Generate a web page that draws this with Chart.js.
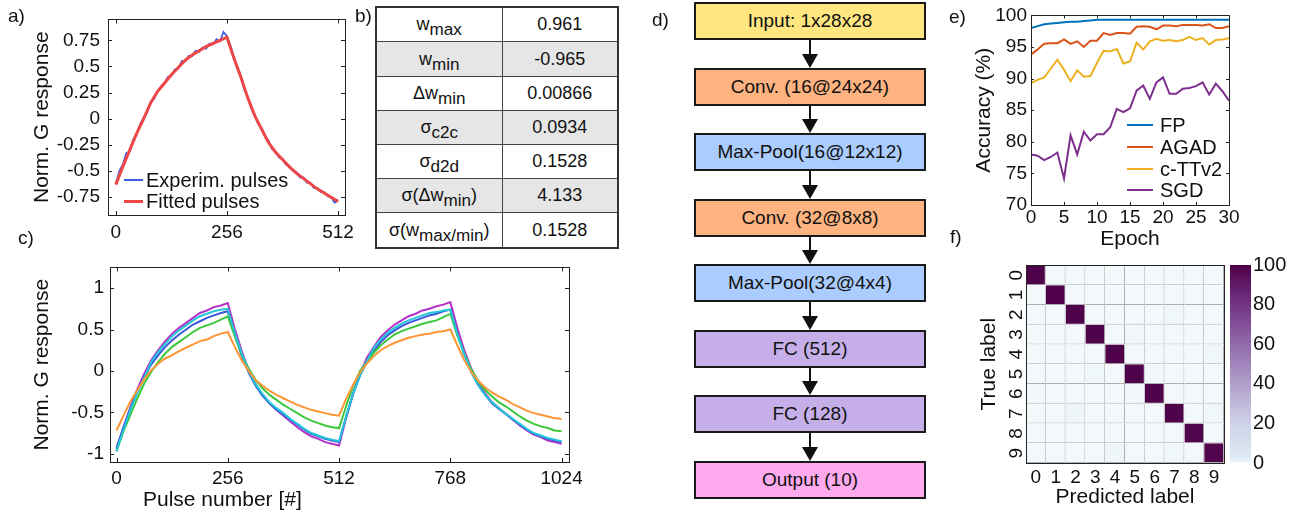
<!DOCTYPE html>
<html>
<head>
<meta charset="utf-8">
<script src="https://cdn.jsdelivr.net/npm/chart.js@4.4.1/dist/chart.umd.min.js"></script>
<style>
  body { margin:0; width:1299px; height:516px; position:relative; overflow:hidden; background:#fff;
         font-family:'Liberation Sans', Arial, sans-serif; color:#111; }
  canvas, .t, .flow, .arrow, .lg, table { position:absolute; }
  .t { white-space:nowrap; line-height:1.2; }
  .flow { box-sizing:border-box; border:2px solid #1a1a1a; display:flex; align-items:center; justify-content:center; font-size:19px; }
  table { border-collapse:collapse; table-layout:fixed; font-size:18px; border:2px solid #333; }
  td { border:1px solid #444; text-align:center; padding:0; }
  sub { font-size:0.95em; vertical-align:-0.3em; line-height:0; }
</style>
</head>
<body>
<script>
// ---------- a) single pulse cycle ----------
const aExpX = [0,8,16,24,32,40,48,56,64,72,80,88,96,104,112,120,128,136,144,152,160,168,176,184,192,200,208,216,224,232,240,248,
  256,264,272,280,288,296,304,312,320,328,336,344,352,360,368,376,384,392,400,408,416,424,432,440,448,456,464,472,480,488,496,504,512];
const aExperim = [-0.62,-0.50,-0.44,-0.33,-0.31,-0.20,-0.15,-0.05,0.01,0.06,0.16,0.19,0.26,0.31,0.34,0.40,0.41,0.47,0.48,0.55,0.55,0.60,0.60,0.65,
  0.64,0.68,0.67,0.72,0.71,0.76,0.74,0.83,0.79,0.70,0.59,0.48,0.41,0.28,0.21,0.10,0.04,-0.05,-0.09,-0.17,-0.21,-0.29,-0.31,-0.37,
  -0.38,-0.44,-0.45,-0.50,-0.51,-0.56,-0.56,-0.61,-0.61,-0.66,-0.66,-0.70,-0.70,-0.74,-0.75,-0.80,-0.78];
const aFitX = [0,16,32,48,64,80,96,112,128,144,160,176,192,208,224,240,256,272,288,304,320,336,352,368,384,400,416,432,448,464,480,496,512];
const aFitted = [-0.63,-0.46,-0.30,-0.14,0.0,0.15,0.26,0.34,0.42,0.49,0.56,0.61,0.65,0.69,0.72,0.75,0.78,
  0.58,0.40,0.20,0.03,-0.10,-0.23,-0.32,-0.39,-0.46,-0.52,-0.57,-0.62,-0.67,-0.71,-0.75,-0.79];
const aXTicks = [0, 256, 512];
const aYTicks = [-0.75, -0.5, -0.25, 0, 0.25, 0.5, 0.75];

// ---------- c) five devices, two cycles ----------
const cX = [0,16,32,48,64,80,96,112,128,144,160,176,192,208,224,240,256,272,288,304,320,336,352,368,384,400,416,432,448,464,480,496,
  512,528,544,560,576,592,608,624,640,656,672,688,704,720,736,752,768,784,800,816,832,848,864,880,896,912,928,944,960,976,992,1008,1024];
const cPurple = [-0.95,-0.68,-0.44,-0.22,-0.03,0.13,0.25,0.36,0.45,0.52,0.58,0.64,0.70,0.73,0.77,0.79,0.82,
  0.51,0.24,0.01,-0.16,-0.29,-0.39,-0.47,-0.54,-0.61,-0.68,-0.74,-0.79,-0.82,-0.86,-0.88,-0.90,
  -0.57,-0.28,-0.04,0.16,0.29,0.41,0.49,0.56,0.61,0.66,0.69,0.73,0.75,0.78,0.80,0.83,
  0.52,0.25,0.03,-0.14,-0.27,-0.38,-0.45,-0.52,-0.59,-0.66,-0.72,-0.77,-0.80,-0.84,-0.86,-0.88];
const cBlue = [-0.93,-0.68,-0.45,-0.25,-0.07,0.08,0.19,0.29,0.37,0.44,0.50,0.56,0.60,0.64,0.67,0.70,0.72,
  0.44,0.18,-0.02,-0.18,-0.30,-0.39,-0.47,-0.53,-0.59,-0.65,-0.71,-0.76,-0.79,-0.82,-0.84,-0.86,
  -0.56,-0.28,-0.06,0.12,0.24,0.35,0.43,0.49,0.54,0.58,0.61,0.64,0.67,0.69,0.72,0.74,
  0.45,0.20,-0.01,-0.17,-0.29,-0.39,-0.46,-0.52,-0.59,-0.65,-0.71,-0.76,-0.79,-0.82,-0.84,-0.86];
const cCyan = [-0.97,-0.71,-0.47,-0.26,-0.08,0.11,0.23,0.33,0.42,0.49,0.55,0.61,0.66,0.69,0.72,0.74,0.75,
  0.46,0.21,0.0,-0.16,-0.28,-0.38,-0.45,-0.51,-0.58,-0.64,-0.70,-0.75,-0.78,-0.81,-0.83,-0.85,
  -0.55,-0.28,-0.06,0.12,0.28,0.38,0.46,0.52,0.57,0.61,0.64,0.67,0.70,0.71,0.73,0.74,
  0.45,0.20,-0.01,-0.17,-0.29,-0.38,-0.45,-0.52,-0.58,-0.64,-0.70,-0.75,-0.78,-0.81,-0.83,-0.85];
const cGreen = [-0.97,-0.73,-0.53,-0.33,-0.15,-0.01,0.11,0.21,0.29,0.35,0.41,0.47,0.52,0.55,0.58,0.62,0.66,
  0.42,0.20,0.03,-0.11,-0.21,-0.29,-0.35,-0.41,-0.46,-0.51,-0.56,-0.60,-0.63,-0.66,-0.68,-0.69,
  -0.43,-0.19,0.0,0.11,0.22,0.31,0.38,0.44,0.48,0.51,0.54,0.57,0.59,0.61,0.65,0.69,
  0.43,0.21,0.02,-0.12,-0.23,-0.31,-0.38,-0.43,-0.49,-0.55,-0.60,-0.64,-0.67,-0.69,-0.72,-0.73];
const cOrange = [-0.72,-0.54,-0.37,-0.23,-0.10,0.01,0.09,0.15,0.19,0.24,0.28,0.32,0.36,0.38,0.42,0.45,0.47,
  0.29,0.13,0.0,-0.11,-0.18,-0.24,-0.29,-0.33,-0.37,-0.41,-0.44,-0.47,-0.49,-0.51,-0.53,-0.54,
  -0.34,-0.17,-0.02,0.09,0.18,0.25,0.30,0.34,0.37,0.40,0.42,0.44,0.45,0.47,0.48,0.50,
  0.31,0.13,-0.01,-0.12,-0.20,-0.26,-0.31,-0.35,-0.40,-0.44,-0.48,-0.51,-0.53,-0.55,-0.57,-0.58];
const cXTicks = [0, 256, 512, 768, 1024];
const cYTicks = [-1, -0.5, 0, 0.5, 1];

// ---------- b) device parameters ----------
const tableParams = ['w<sub>max</sub>', 'w<sub>min</sub>', '&Delta;w<sub>min</sub>', '&sigma;<sub>c2c</sub>',
  '&sigma;<sub>d2d</sub>', '&sigma;(&Delta;w<sub>min</sub>)', '&sigma;(w<sub>max/min</sub>)'];
const tableValues = ['0.961', '-0.965', '0.00866', '0.0934', '0.1528', '4.133', '0.1528'];

// ---------- d) network ----------
const flowLabels = ['Input: 1x28x28', 'Conv. (16@24x24)', 'Max-Pool(16@12x12)', 'Conv. (32@8x8)',
  'Max-Pool(32@4x4)', 'FC (512)', 'FC (128)', 'Output (10)'];
const flowColors = ['#ffe680', '#ffb380', '#aaccff', '#ffb380', '#aaccff', '#c6afe8', '#c6afe8', '#ffaaee'];

// ---------- e) accuracy ----------
const epochs = [0,1,2,3,4,5,6,7,8,9,10,11,12,13,14,15,16,17,18,19,20,21,22,23,24,25,26,27,28,29,30];
const accFP = [98.0,98.3,98.6,98.7,98.8,98.9,99.0,99.0,99.1,99.2,99.3,99.3,99.3,99.3,99.3,99.3,99.3,99.3,99.3,99.3,99.3,99.3,99.3,99.3,99.3,99.3,99.3,99.3,99.3,99.3,99.3];
const accAGAD = [93.8,94.6,95.5,95.6,95.6,96.2,95.5,95.9,95.0,96.0,96.0,97.2,96.9,97.2,97.2,97.1,98.2,98.3,98.2,97.8,98.4,98.4,98.3,98.5,98.5,98.5,98.4,98.6,98.0,98.0,98.3];
const accCTT = [89.3,89.8,90.2,91.6,93.0,91.4,89.6,91.3,90.3,90.4,92.5,94.4,94.3,94.7,92.4,92.7,95.7,94.6,95.9,96.3,96.0,96.1,95.9,96.1,96.6,96.1,96.4,95.4,96.1,96.2,96.4];
const accSGD = [78.0,77.8,77.1,77.6,78.3,74.2,81.0,78.0,81.6,80.2,81.2,81.2,82.3,85.2,84.7,85.3,88.1,88.9,86.8,89.4,90.2,87.6,87.6,88.4,88.5,88.8,89.4,87.5,89.2,88.0,86.5];
const eSeriesNames = ['FP', 'AGAD', 'c-TTv2', 'SGD'];
const eXTicks = [0, 5, 10, 15, 20, 25, 30];
const eYTicks = [70, 75, 80, 85, 90, 95, 100];

// ---------- f) confusion matrix (%) ----------
const trueLabels = ['0','1','2','3','4','5','6','7','8','9'];
const predLabels = ['0','1','2','3','4','5','6','7','8','9'];
const confusion = [
  [99.4,0.0,0.1,0.0,0.0,0.1,0.2,0.1,0.1,0.0],
  [0.0,99.5,0.1,0.1,0.0,0.0,0.1,0.1,0.1,0.0],
  [0.1,0.1,98.9,0.2,0.1,0.0,0.0,0.4,0.2,0.0],
  [0.0,0.0,0.2,99.0,0.0,0.3,0.0,0.2,0.2,0.1],
  [0.0,0.0,0.1,0.0,99.1,0.0,0.2,0.1,0.1,0.4],
  [0.1,0.0,0.0,0.4,0.0,98.8,0.3,0.1,0.2,0.1],
  [0.3,0.2,0.0,0.0,0.1,0.3,98.9,0.0,0.2,0.0],
  [0.0,0.2,0.5,0.1,0.0,0.0,0.0,98.7,0.1,0.4],
  [0.2,0.0,0.2,0.2,0.1,0.2,0.1,0.2,98.6,0.2],
  [0.1,0.1,0.0,0.2,0.6,0.2,0.0,0.4,0.2,98.2]
];
const colorbarTicks = [0, 20, 40, 60, 80, 100];

// ---------- helpers ----------
Chart.defaults.font.family = "'Liberation Sans', Arial, sans-serif";
Chart.defaults.font.size = 19;
Chart.defaults.color = '#111';

function canvas(left, top, w, h) {
  const c = document.createElement('canvas');
  c.width = w; c.height = h;
  c.style.left = left + 'px'; c.style.top = top + 'px';
  document.body.appendChild(c);
  return c;
}
function txt(s, x, y, size, extra) {
  const d = document.createElement('div');
  d.className = 't';
  d.innerHTML = s;
  d.style.left = x + 'px';
  d.style.top = (y - size * 0.6) + 'px';
  d.style.fontSize = size + 'px';
  if (extra) Object.assign(d.style, extra);
  document.body.appendChild(d);
  return d;
}
function legendLine(x, y, w, lw, color) {
  const d = document.createElement('div');
  d.className = 'lg';
  Object.assign(d.style, { left: x + 'px', top: (y - lw / 2) + 'px', width: w + 'px', height: lw + 'px', background: color });
  document.body.appendChild(d);
}

// box around the plot area with inward tick marks (matlab style)
const boxTicks = {
  id: 'boxTicks',
  afterDraw(chart, args, opts) {
    const { ctx, chartArea: a, scales } = chart;
    const len = opts.len || 4;
    ctx.save();
    ctx.strokeStyle = '#222';
    ctx.lineWidth = 1;
    if (opts.ticks !== false) {
      ctx.beginPath();
      scales.x.ticks.forEach(t => {
        const px = Math.round(scales.x.getPixelForValue(t.value)) + 0.5;
        ctx.moveTo(px, a.bottom); ctx.lineTo(px, a.bottom - len);
        ctx.moveTo(px, a.top); ctx.lineTo(px, a.top + len);
      });
      scales.y.ticks.forEach(t => {
        const py = Math.round(scales.y.getPixelForValue(t.value)) + 0.5;
        ctx.moveTo(a.left, py); ctx.lineTo(a.left + len, py);
        ctx.moveTo(a.right, py); ctx.lineTo(a.right - len, py);
      });
      ctx.stroke();
    }
    ctx.strokeRect(Math.round(a.left) + 0.5, Math.round(a.top) + 0.5, Math.round(a.right - a.left), Math.round(a.bottom - a.top));
    ctx.restore();
  }
};

function xAxis(min, max, list, height, pad, title, tpad) {
  return {
    type: 'linear', min, max,
    afterBuildTicks: s => { s.ticks = list.map(v => ({ value: v })); },
    afterFit: s => { s.height = height; },
    grid: { display: false, drawTicks: false }, border: { display: false },
    ticks: { padding: pad, autoSkip: false, maxRotation: 0, callback: v => String(v) },
    title: title ? { display: true, text: title, font: { size: 21 }, padding: { top: 0, bottom: tpad } } : { display: false }
  };
}
function yAxis(min, max, list, width, pad, title, tpad) {
  return {
    type: 'linear', min, max,
    afterBuildTicks: s => { s.ticks = list.map(v => ({ value: v })); },
    afterFit: s => { s.width = width; },
    grid: { display: false, drawTicks: false }, border: { display: false },
    ticks: { padding: pad, autoSkip: false, callback: v => String(v) },
    title: title ? { display: true, text: title, font: { size: 21 }, padding: { top: tpad, bottom: 0 } } : { display: false }
  };
}
const pts = (xs, ys) => xs.map((x, i) => ({ x, y: ys[i] }));
const baseOpts = { responsive: false, animation: false, devicePixelRatio: 1 };

// ---------- a) ----------
new Chart(canvas(0, 0, 362, 250), {
  type: 'line',
  data: { datasets: [
    { data: pts(aFitX, aFitted), borderColor: '#ef4646', borderWidth: 3, pointRadius: 0 },
    { data: pts(aExpX, aExperim), borderColor: '#3d5ee6', borderWidth: 1.8, pointRadius: 0 }
  ] },
  options: { ...baseOpts,
    layout: { padding: { top: 5, right: 17, left: 0, bottom: 0 } },
    plugins: { legend: { display: false }, tooltip: { enabled: false }, boxTicks: { len: 4 } },
    scales: { x: xAxis(-18, 528, aXTicks, 35, 6), y: yAxis(-0.92, 0.95, aYTicks, 108, 8, 'Norm. G response', 30) }
  },
  plugins: [boxTicks]
});
legendLine(124, 180, 19, 2, '#3d5ee6');
txt('Experim. pulses', 146, 180, 20);
legendLine(124, 201, 19, 3, '#ef4646');
txt('Fitted pulses', 146, 201, 20);

// ---------- c) ----------
const cSeries = [
  [cOrange, '#ff9533'], [cCyan, '#22c6d8'], [cGreen, '#3cc83c'], [cBlue, '#3a55da'], [cPurple, '#b532c8']
];
new Chart(canvas(0, 250, 600, 266), {
  type: 'line',
  data: { datasets: cSeries.map(([ys, col]) => ({ data: pts(cX, ys), borderColor: col, borderWidth: 2, pointRadius: 0 })) },
  options: { ...baseOpts,
    layout: { padding: { top: 6, right: 31, left: 0, bottom: 0 } },
    plugins: { legend: { display: false }, tooltip: { enabled: false }, boxTicks: { len: 4 } },
    scales: { x: xAxis(-15, 1041, cXTicks, 54, 5), y: yAxis(-1.1, 1.25, cYTicks, 110, 6, 'Norm. G response', 30) }
  },
  plugins: [boxTicks]
});
txt('Pulse number [#]', 143, 499, 21);

// ---------- b) table ----------
const tbl = document.createElement('table');
Object.assign(tbl.style, { left: '375px', top: '6px', width: '244px', height: '243px' });
tbl.innerHTML = '<colgroup><col style="width:126px"><col></colgroup>' +
  tableParams.map((p, i) => `<tr style="background:${i % 2 ? '#e6e6e6' : '#fff'}"><td>${p}</td><td>${tableValues[i]}</td></tr>`).join('');
document.body.appendChild(tbl);

// ---------- d) flow chart ----------
flowLabels.forEach((label, i) => {
  const top = 2 + i * 65.5;
  const b = document.createElement('div');
  b.className = 'flow';
  Object.assign(b.style, { left: '694px', top: top + 'px', width: '232px', height: '38px', background: flowColors[i] });
  b.textContent = label;
  document.body.appendChild(b);
  if (i < flowLabels.length - 1) {
    const y0 = top + 38, y1 = top + 65.5;
    const ln = document.createElement('div');
    ln.className = 'arrow';
    Object.assign(ln.style, { left: '809px', top: y0 + 'px', width: '2px', height: (y1 - y0 - 12) + 'px', background: '#111' });
    document.body.appendChild(ln);
    const hd = document.createElement('div');
    hd.className = 'arrow';
    Object.assign(hd.style, { left: '802px', top: (y1 - 14) + 'px', width: 0, height: 0,
      borderLeft: '8px solid transparent', borderRight: '8px solid transparent', borderTop: '14px solid #111' });
    document.body.appendChild(hd);
  }
});

// ---------- e) ----------
const eColors = ['#0072bd', '#d95319', '#edb120', '#7e2f8e'];
const eData = [accFP, accAGAD, accCTT, accSGD];
new Chart(canvas(940, 0, 359, 252), {
  type: 'line',
  data: { datasets: eData.map((ys, i) => ({ label: eSeriesNames[i], data: pts(epochs, ys), borderColor: eColors[i], borderWidth: 2, pointRadius: 0 })) },
  options: { ...baseOpts,
    layout: { padding: { top: 8, right: 70, left: 0, bottom: 0 } },
    plugins: { legend: { display: false }, tooltip: { enabled: false }, boxTicks: { len: 3 } },
    scales: { x: xAxis(0, 30, eXTicks, 47, 1, 'Epoch', 0), y: yAxis(70, 100, eYTicks, 91, 4, 'Accuracy (%)', 32) }
  },
  plugins: [boxTicks]
});
eSeriesNames.forEach((n, i) => {
  const y = 125 + i * 21.8;
  legendLine(1127, y, 26, 2, eColors[i]);
  txt(n, 1160, y, 20);
});

// ---------- f) confusion matrix ----------
const cmapStops = [[0, '#f3f9fb'], [3, '#dde9f4'], [20, '#cfd3e8'], [40, '#b09fcb'], [60, '#916aaa'], [80, '#733485'], [100, '#4d0047']];
const hex = h => [1, 3, 5].map(i => parseInt(h.slice(i, i + 2), 16));
function cmap(v) {
  for (let i = 1; i < cmapStops.length; i++) {
    const [v1, c1] = cmapStops[i];
    if (v <= v1) {
      const [v0, c0] = cmapStops[i - 1];
      const t = (v - v0) / (v1 - v0), a = hex(c0), b = hex(c1);
      return 'rgb(' + a.map((x, k) => Math.round(x + (b[k] - x) * t)).join(',') + ')';
    }
  }
  return cmapStops[cmapStops.length - 1][1];
}
const cellSpan = trueLabels.map(() => 1); // every cell is one unit wide
new Chart(canvas(940, 250, 300, 266), {
  type: 'bar',
  data: { labels: trueLabels, datasets: predLabels.map((p, j) => ({
    data: cellSpan,
    backgroundColor: ctx => cmap(confusion[ctx.dataIndex][j]),
    borderColor: '#b0b0b0', borderWidth: { top: 0, left: 0, right: 1, bottom: 1 }, borderSkipped: false,
    barPercentage: 1, categoryPercentage: 1, inflateAmount: 0
  })) },
  options: { ...baseOpts, indexAxis: 'y',
    layout: { padding: { top: 15, right: 16, left: 0, bottom: 0 } },
    plugins: { legend: { display: false }, tooltip: { enabled: false }, boxTicks: { ticks: false } },
    scales: {
      x: { type: 'linear', stacked: true, min: 0, max: 10,
        afterBuildTicks: s => { s.ticks = predLabels.map((p, i) => ({ value: i + 0.5 })); },
        afterFit: s => { s.height = 53; },
        ticks: { padding: 3, autoSkip: false, maxRotation: 0, callback: (v, i) => predLabels[i] },
        grid: { display: false, drawTicks: false }, border: { display: false },
        title: { display: true, text: 'Predicted label', font: { size: 21 }, padding: { top: 0, bottom: 6 } } },
      y: { type: 'category', stacked: true,
        afterFit: s => { s.width = 86; },
        ticks: { minRotation: 90, maxRotation: 90, crossAlign: 'center', padding: 4 },
        grid: { display: false, drawTicks: false }, border: { display: false },
        title: { display: true, text: 'True label', font: { size: 21 }, padding: { top: 37, bottom: 0 } } }
    }
  },
  plugins: [boxTicks]
});

// colour bar
new Chart(canvas(1225, 250, 74, 266), {
  type: 'bar',
  data: { labels: [''], datasets: [{
    data: [colorbarTicks[colorbarTicks.length - 1]],
    backgroundColor: ctx => {
      const ch = ctx.chart, y = ch.scales.y;
      if (!ch.chartArea || !y) return '#ccc';
      const g = ch.ctx.createLinearGradient(0, y.getPixelForValue(0), 0, y.getPixelForValue(100));
      cmapStops.forEach(([v, c]) => g.addColorStop(v / 100, c));
      return g;
    },
    barPercentage: 1, categoryPercentage: 1, borderWidth: 0
  }] },
  options: { ...baseOpts,
    layout: { padding: { top: 15, right: 0, left: 5, bottom: 53 } },
    plugins: { legend: { display: false }, tooltip: { enabled: false } },
    scales: {
      x: { display: false },
      y: { position: 'right', min: 0, max: 100,
        afterBuildTicks: s => { s.ticks = colorbarTicks.map(v => ({ value: v })); },
        afterFit: s => { s.width = 48; },
        ticks: { padding: 2, font: { size: 20 } },
        grid: { display: false, drawTicks: false }, border: { display: false } }
    }
  }
});

// panel letters
txt('a)', 8, 16, 19);
txt('b)', 355, 16, 19);
txt('c)', 18, 238, 19);
txt('d)', 652, 20, 19);
txt('e)', 949, 17, 19);
txt('f)', 950, 237, 19);
</script>
</body>
</html>
